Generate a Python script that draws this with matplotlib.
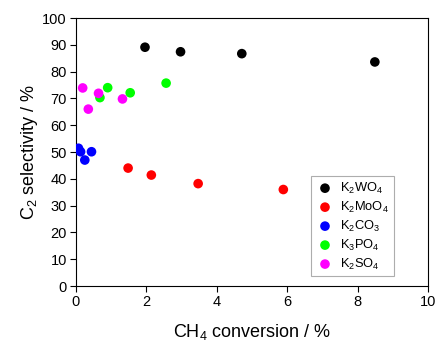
import matplotlib
matplotlib.use("Agg")
import matplotlib.pyplot as plt

plt.rcParams['font.family'] = ['Liberation Sans', 'DejaVu Sans']
plt.rcParams['mathtext.fontset'] = 'custom'
plt.rcParams['mathtext.rm'] = 'Liberation Sans'
plt.rcParams['mathtext.it'] = 'Liberation Sans'
plt.rcParams['mathtext.default'] = 'regular'

labels = ["K$_2$WO$_4$", "K$_2$MoO$_4$", "K$_2$CO$_3$", "K$_3$PO$_4$", "K$_2$SO$_4$"]
colors = ["#000000", "#ff0000", "#0000ff", "#00ff00", "#ff00ff"]

k2wo4_x = [1.96, 2.97, 4.71, 8.49]
k2wo4_y = [89.1, 87.4, 86.7, 83.6]
k2moo4_x = [1.48, 2.14, 3.47, 5.89]
k2moo4_y = [44.0, 41.4, 38.2, 36.0]
k2co3_x = [0.07, 0.13, 0.25, 0.44]
k2co3_y = [51.4, 50.1, 47.0, 50.1]
k3po4_x = [0.90, 0.68, 1.54, 2.56]
k3po4_y = [74.0, 70.3, 72.1, 75.7]
k2so4_x = [0.19, 0.35, 0.64, 1.32]
k2so4_y = [73.9, 66.0, 71.9, 69.8]

xs = [k2wo4_x, k2moo4_x, k2co3_x, k3po4_x, k2so4_x]
ys = [k2wo4_y, k2moo4_y, k2co3_y, k3po4_y, k2so4_y]

fig = plt.figure(figsize=(4.37, 3.40), dpi=100)
ax = fig.add_axes([76/437, 1-286/340, (428-76)/437, (286-18)/340])

for x, y, c, l in zip(xs, ys, colors, labels):
    ax.scatter(x, y, s=48, color=c, label=l, edgecolors='none', zorder=3)

ax.set_xlim(0, 10)
ax.set_ylim(0, 100)
ax.set_xticks(range(0, 11, 2))
ax.set_yticks(range(0, 101, 10))
ax.tick_params(axis='both', direction='out', length=4, width=0.8, labelsize=10.5,
               top=False, right=False, pad=2.5)
for s in ax.spines.values():
    s.set_linewidth(0.8)

ax.set_xlabel("CH$_4$ conversion / %", fontsize=13, labelpad=9)
ax.set_ylabel("C$_2$ selectivity / %", fontsize=13, labelpad=2)

leg = ax.legend(loc='lower right', bbox_to_anchor=(0.903, 0.037), fontsize=9.3,
                frameon=True, fancybox=False, edgecolor='#999999',
                handletextpad=0.5, borderpad=0.35, labelspacing=0.3,
                handlelength=1.4, scatterpoints=1, borderaxespad=0)
leg.get_frame().set_linewidth(0.8)

fig.savefig("out.png", dpi=100)
